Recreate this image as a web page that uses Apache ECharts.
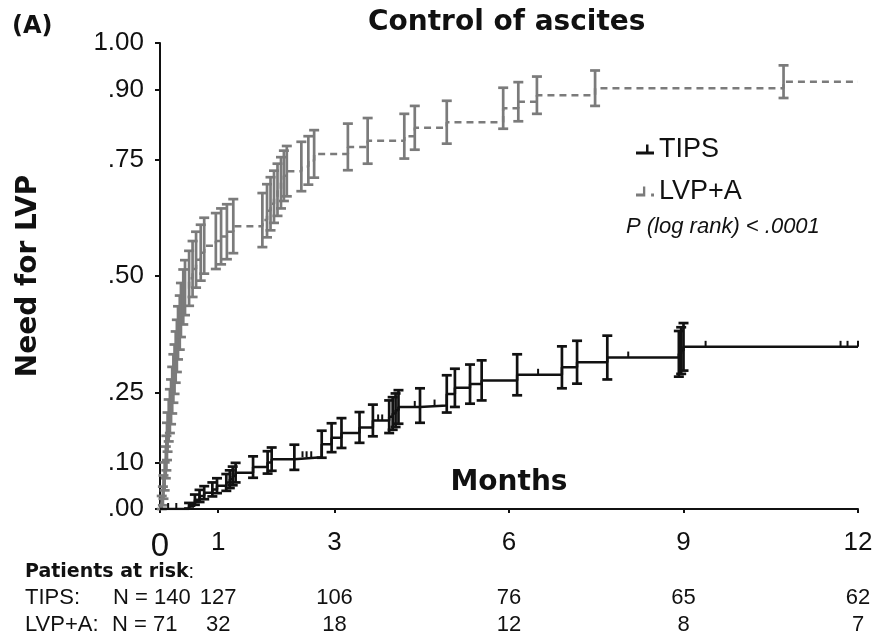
<!DOCTYPE html>
<html>
<head>
<meta charset="utf-8">
<script src="https://cdn.jsdelivr.net/npm/echarts@6/dist/echarts.min.js"></script>
<style>
  html, body { margin: 0; padding: 0; background: #fff; }
  #chart { width: 874px; height: 640px; }
</style>
</head>
<body>
<div id="chart"></div>
<script>
var xTicks = [0, 1, 3, 6, 9, 12]
var yTicks = [0, 0.1, 0.25, 0.5, 0.75, 0.9, 1]

// TIPS: event times (months), cumulative need for LVP, half width of the bars
var tipsMonths = [0.5, 0.6, 0.68, 0.76, 0.9, 0.98, 1.14, 1.2, 1.25, 1.3, 1.6, 1.85, 1.92, 2.31, 2.78, 2.95, 3.12, 3.43, 3.66, 3.94, 4.0, 4.05, 4.1, 4.47, 4.93, 5.07, 5.33, 5.53, 6.14, 6.91, 7.17, 7.69, 8.92, 8.96, 9.0]
var tipsNeed = [0.007, 0.02, 0.028, 0.035, 0.042, 0.05, 0.057, 0.064, 0.071, 0.078, 0.09, 0.1, 0.107, 0.111, 0.139, 0.153, 0.163, 0.175, 0.19, 0.198, 0.205, 0.212, 0.219, 0.222, 0.247, 0.26, 0.268, 0.276, 0.288, 0.304, 0.315, 0.325, 0.333, 0.34, 0.348]
var tipsHalfCI = [0.006, 0.011, 0.013, 0.014, 0.015, 0.016, 0.018, 0.019, 0.02, 0.021, 0.023, 0.024, 0.025, 0.027, 0.029, 0.031, 0.032, 0.033, 0.034, 0.035, 0.035, 0.036, 0.036, 0.037, 0.04, 0.041, 0.042, 0.043, 0.044, 0.045, 0.046, 0.047, 0.049, 0.05, 0.051]
var tipsCensorMonths = [0.14, 0.28, 2.45, 2.52, 2.6, 3.75, 3.82, 4.38, 4.72, 6.5, 8.05, 9.38, 11.7, 11.82, 12]
var tipsCensorNeed = [0, 0, 0.111, 0.111, 0.111, 0.19, 0.19, 0.219, 0.222, 0.288, 0.325, 0.348, 0.348, 0.348, 0.348]

// LVP+A
var lvpMonths = [0.03, 0.05, 0.06, 0.08, 0.1, 0.11, 0.12, 0.13, 0.15, 0.17, 0.19, 0.21, 0.23, 0.25, 0.27, 0.29, 0.31, 0.34, 0.36, 0.4, 0.43, 0.5, 0.56, 0.62, 0.7, 0.76, 0.96, 1.05, 1.15, 1.26, 1.76, 1.84, 1.9, 1.96, 2.02, 2.08, 2.13, 2.18, 2.43, 2.55, 2.65, 3.23, 3.57, 4.2, 4.38, 4.93, 5.9, 6.16, 6.48, 7.48, 10.72]
var lvpNeed = [0.014, 0.028, 0.047, 0.07, 0.1, 0.12, 0.145, 0.165, 0.19, 0.21, 0.23, 0.255, 0.28, 0.3, 0.326, 0.35, 0.378, 0.4, 0.427, 0.455, 0.475, 0.495, 0.515, 0.535, 0.55, 0.565, 0.575, 0.585, 0.595, 0.607, 0.62, 0.64, 0.655, 0.67, 0.685, 0.7, 0.715, 0.725, 0.735, 0.748, 0.762, 0.777, 0.79, 0.8, 0.818, 0.83, 0.86, 0.874, 0.888, 0.903, 0.917]
var lvpHalfCI = [0.014, 0.02, 0.025, 0.03, 0.034, 0.037, 0.04, 0.042, 0.045, 0.047, 0.048, 0.05, 0.052, 0.053, 0.055, 0.056, 0.057, 0.058, 0.058, 0.059, 0.059, 0.059, 0.06, 0.06, 0.06, 0.06, 0.06, 0.06, 0.059, 0.058, 0.058, 0.057, 0.057, 0.056, 0.056, 0.055, 0.054, 0.054, 0.053, 0.052, 0.051, 0.05, 0.049, 0.048, 0.047, 0.046, 0.044, 0.042, 0.04, 0.038, 0.035]

// patients at risk
var riskMonths = [0, 1, 3, 6, 9, 12]
var riskTips = [140, 127, 106, 76, 65, 62]
var riskLvp = [71, 32, 18, 12, 8, 7]

var black = '#111111'
var gray = '#7b7b7b'

function stepData(months, need) {
  var out = [[0, 0]]
  for (var i = 0; i < months.length; i++) out.push([months[i], need[i]])
  out.push([12, need[need.length - 1]])
  return out
}

function barData(months, need, half) {
  var out = []
  for (var i = 0; i < months.length; i++) out.push([months[i], need[i] - half[i], need[i] + half[i]])
  return out
}

function censorData(months, need) {
  var out = []
  for (var i = 0; i < months.length; i++) out.push([months[i], need[i]])
  return out
}

function barRenderer(color) {
  return function (params, api) {
    var top = api.coord([api.value(0), api.value(2)])
    var bot = api.coord([api.value(0), api.value(1)])
    var w = 5
    var st = { stroke: color, lineWidth: 2.7 }
    return {
      type: 'group',
      children: [
        { type: 'line', shape: { x1: top[0], y1: top[1], x2: bot[0], y2: bot[1] }, style: st },
        { type: 'line', shape: { x1: top[0] - w, y1: top[1], x2: top[0] + w, y2: top[1] }, style: st },
        { type: 'line', shape: { x1: bot[0] - w, y1: bot[1], x2: bot[0] + w, y2: bot[1] }, style: st }
      ]
    }
  }
}

function censorRenderer(params, api) {
  var p = api.coord([api.value(0), api.value(1)])
  return {
    type: 'line',
    shape: { x1: p[0], y1: p[1], x2: p[0], y2: p[1] - 6 },
    style: { stroke: black, lineWidth: 2 }
  }
}

function riskAxis(values, margin) {
  return {
    type: 'value',
    position: 'bottom',
    min: 0,
    max: 12,
    axisLine: { show: false },
    axisTick: { show: false },
    splitLine: { show: false },
    axisLabel: {
      customValues: riskMonths.slice(1),
      margin: margin,
      verticalAlign: 'middle',
      color: black,
      fontFamily: 'Liberation Sans',
      fontSize: 22,
      formatter: function (v) {
        var i = riskMonths.indexOf(v)
        return i < 0 ? '' : String(values[i])
      }
    }
  }
}

var myChart = echarts.init(document.getElementById('chart'), null, { renderer: 'canvas' })

var option = {
  backgroundColor: '#ffffff',
  animation: false,
  title: [
    {
      text: 'Control of ascites',
      left: 368,
      top: 9,
      padding: 0,
      textStyle: { fontFamily: 'DejaVu Sans', fontWeight: 'bold', fontSize: 28, color: black }
    },
    {
      text: '(A)',
      left: 12,
      top: 15,
      padding: 0,
      textStyle: { fontFamily: 'DejaVu Sans', fontWeight: 'bold', fontSize: 24, color: black }
    }
  ],
  legend: {
    orient: 'vertical',
    left: 631,
    top: 131,
    itemWidth: 18,
    itemHeight: 14,
    itemGap: 15,
    textStyle: { fontFamily: 'Liberation Sans', fontSize: 27, color: black },
    data: [
      { name: 'TIPS', icon: 'path://M0,11H18V14H0Z M10,4H12.5V11H10Z', itemStyle: { color: black } },
      { name: 'LVP+A', icon: 'path://M0,11H8V13.5H0Z M6,5H8V11H6Z M13,11H15.5V13.5H13Z', itemStyle: { color: gray } }
    ]
  },
  grid: { left: 160, right: 16, top: 43, bottom: 131, outerBoundsMode: 'none' },
  xAxis: [
    {
      type: 'value',
      min: 0,
      max: 12,
      name: 'Months',
      nameLocation: 'middle',
      nameGap: -26,
      nameTextStyle: { fontFamily: 'DejaVu Sans', fontWeight: 'bold', fontSize: 28, color: black, verticalAlign: 'middle' },
      axisLine: { lineStyle: { color: black, width: 2 } },
      axisTick: { customValues: xTicks, length: 4, lineStyle: { color: black, width: 2 } },
      splitLine: { show: false },
      axisLabel: {
        customValues: xTicks,
        margin: 21,
        color: black,
        fontFamily: 'Liberation Sans',
        fontSize: 26,
        formatter: function (v) { return v === 0 ? '{big|0}' : String(v) },
        rich: { big: { fontSize: 33, fontFamily: 'Liberation Sans', color: black } }
      }
    },
    riskAxis(riskTips, 89),
    riskAxis(riskLvp, 116)
  ],
  yAxis: {
    type: 'value',
    min: 0,
    max: 1,
    name: 'Need for LVP',
    nameLocation: 'middle',
    nameGap: 117,
    nameTextStyle: { fontFamily: 'DejaVu Sans', fontWeight: 'bold', fontSize: 28, color: black },
    axisLine: { show: true, lineStyle: { color: black, width: 2 } },
    axisTick: { show: true, customValues: yTicks, length: 5, lineStyle: { color: black, width: 2 } },
    splitLine: { show: false },
    axisLabel: {
      customValues: yTicks,
      margin: 16,
      color: black,
      fontFamily: 'Liberation Sans',
      fontSize: 26,
      formatter: function (v) { return v === 1 ? '1.00' : '.' + ('0' + Math.round(v * 100)).slice(-2) }
    }
  },
  graphic: [
    {
      type: 'text',
      left: 25,
      top: 562,
      style: {
        text: '{b|Patients at risk}{r|:}',
        rich: {
          b: { fontFamily: 'DejaVu Sans', fontWeight: 'bold', fontSize: 19, fill: black },
          r: { fontFamily: 'Liberation Sans', fontSize: 20, fill: black }
        }
      }
    },
    { type: 'text', left: 25, top: 587, style: { text: 'TIPS:', fontFamily: 'Liberation Sans', fontSize: 22, fill: black } },
    { type: 'text', left: 113, top: 587, style: { text: 'N = ' + riskTips[0], fontFamily: 'Liberation Sans', fontSize: 22, fill: black } },
    { type: 'text', left: 25, top: 614, style: { text: 'LVP+A:', fontFamily: 'Liberation Sans', fontSize: 22, fill: black } },
    { type: 'text', left: 112, top: 614, style: { text: 'N = ' + riskLvp[0], fontFamily: 'Liberation Sans', fontSize: 22, fill: black } },
    { type: 'text', left: 626, top: 216, style: { text: 'P (log rank) < .0001', fontFamily: 'Liberation Sans', fontStyle: 'italic', fontSize: 22, fill: black } }
  ],
  series: [
    {
      name: 'LVP+A',
      type: 'line',
      step: 'end',
      showSymbol: false,
      color: gray,
      lineStyle: { color: gray, width: 2.5, type: [7, 5] },
      data: stepData(lvpMonths, lvpNeed),
      z: 2
    },
    {
      name: 'LVP+A bars',
      type: 'custom',
      renderItem: barRenderer(gray),
      data: barData(lvpMonths, lvpNeed, lvpHalfCI),
      z: 3
    },
    {
      name: 'TIPS',
      type: 'line',
      step: 'end',
      showSymbol: false,
      color: black,
      lineStyle: { color: black, width: 2.5 },
      data: stepData(tipsMonths, tipsNeed),
      z: 4
    },
    {
      name: 'TIPS bars',
      type: 'custom',
      renderItem: barRenderer(black),
      data: barData(tipsMonths, tipsNeed, tipsHalfCI),
      z: 5
    },
    {
      name: 'TIPS censored',
      type: 'custom',
      renderItem: censorRenderer,
      data: censorData(tipsCensorMonths, tipsCensorNeed),
      z: 5
    }
  ]
}

myChart.setOption(option)
</script>
</body>
</html>
